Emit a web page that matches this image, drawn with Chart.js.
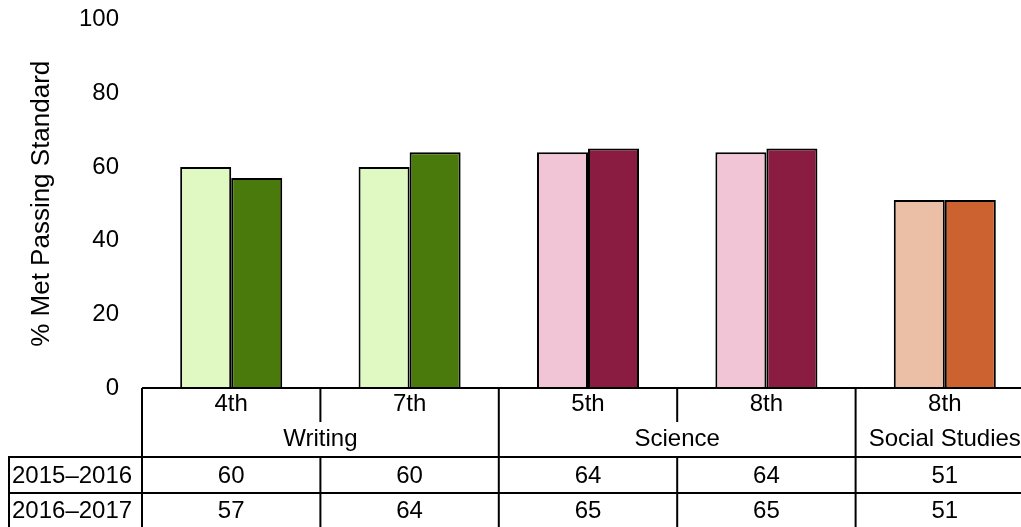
<!DOCTYPE html>
<html>
<head>
<meta charset="utf-8">
<script src="https://cdn.jsdelivr.net/npm/chart.js@4"></script>
<style>
  html, body { margin: 0; padding: 0; background: #fff; overflow: hidden; }
</style>
</head>
<body>
<canvas id="chart" width="1034" height="527"></canvas>
<script>
// Data
const grades = ['4th', '7th', '5th', '8th', '8th'];
const subjects = ['Writing', 'Writing', 'Science', 'Science', 'Social Studies'];
const years = ['2015\u20132016', '2016\u20132017'];
const values2016 = [60, 60, 64, 64, 51];
const values2017 = [57, 64, 65, 65, 51];
const yTicks = [0, 20, 40, 60, 80, 100];

// Colours per subject
const lightColors = ['#e0f8c2', '#e0f8c2', '#f2c5d6', '#f2c5d6', '#ebbfa6'];
const darkColors = ['#4a7a0c', '#4a7a0c', '#8b1c41', '#8b1c41', '#cc6230'];

const FONT = '"Liberation Sans", Arial, sans-serif';
const TEXT = '#000';

// Draws the data table under the plot
const tablePlugin = {
    id: 'dataTable',
    afterDraw(chart) {
        const ctx = chart.ctx;
        const x = chart.scales.x;
        const area = chart.chartArea;
        const W = chart.width;
        const top = area.bottom;
        const rowGroup = 422;
        const rowData1 = 457;
        const rowData2 = 493;
        const bottom = 527;
        const n = grades.length;
        const centers = grades.map((g, i) => x.getPixelForValue(i));
        const half = (centers[1] - centers[0]) / 2;

        ctx.save();
        ctx.strokeStyle = '#000';
        ctx.lineWidth = 2;
        ctx.beginPath();
        // top line
        ctx.moveTo(area.left, top); ctx.lineTo(W, top);
        // left border of table
        ctx.moveTo(area.left, top); ctx.lineTo(area.left, bottom);
        // row lines
        ctx.moveTo(8, rowData1); ctx.lineTo(W, rowData1);
        ctx.moveTo(8, rowData2); ctx.lineTo(W, rowData2);
        ctx.moveTo(9, rowData1); ctx.lineTo(9, bottom);
        // category dividers
        for (let i = 0; i < n - 1; i++) {
            const bx = centers[i] + half;
            if (subjects[i] === subjects[i + 1]) {
                ctx.moveTo(bx, top); ctx.lineTo(bx, rowGroup);
                ctx.moveTo(bx, rowData1); ctx.lineTo(bx, bottom);
            } else {
                ctx.moveTo(bx, top); ctx.lineTo(bx, bottom);
            }
        }
        ctx.stroke();

        ctx.fillStyle = TEXT;
        ctx.font = '24px ' + FONT;
        ctx.textBaseline = 'middle';
        ctx.textAlign = 'center';
        // grades + values
        for (let i = 0; i < n; i++) {
            ctx.fillText(grades[i], centers[i], 404);
            ctx.fillText(String(values2016[i]), centers[i], 476);
            ctx.fillText(String(values2017[i]), centers[i], 511);
        }
        // subject groups
        let start = 0;
        for (let i = 1; i <= n; i++) {
            if (i === n || subjects[i] !== subjects[start]) {
                const cx = (centers[start] + centers[i - 1]) / 2;
                ctx.fillText(subjects[start], cx, 439);
                start = i;
            }
        }
        // row labels
        ctx.textAlign = 'left';
        ctx.fillText(years[0], 12, 476);
        ctx.fillText(years[1], 12, 511);
        ctx.restore();
    }
};

const ctx = document.getElementById('chart').getContext('2d');
new Chart(ctx, {
    type: 'bar',
    data: {
        labels: grades,
        datasets: [
            {
                label: years[0],
                data: values2016,
                backgroundColor: lightColors,
                borderColor: '#000',
                borderWidth: 2
            },
            {
                label: years[1],
                data: values2017,
                backgroundColor: darkColors,
                borderColor: '#000',
                borderWidth: 2
            }
        ]
    },
    options: {
        responsive: false,
        animation: false,
        datasets: {
            bar: { barPercentage: 1, categoryPercentage: 0.572 }
        },
        layout: { padding: { top: 19.5, bottom: 139, left: 0, right: 0 } },
        scales: {
            x: { display: false },
            y: {
                min: 0,
                max: 100,
                afterFit: s => {
                    s.width = 142;
                    s.paddingTop = 0;
                    s.paddingBottom = 0;
                },
                afterBuildTicks: s => { s.ticks = yTicks.map(v => ({ value: v })); },
                grid: { display: false, drawTicks: false },
                border: { display: false },
                ticks: {
                    color: TEXT,
                    padding: 23,
                    font: { family: FONT, size: 24 }
                },
                title: {
                    display: true,
                    text: '% Met Passing Standard',
                    color: TEXT,
                    padding: { top: 26, bottom: 0 },
                    font: { family: FONT, size: 26 }
                }
            }
        },
        plugins: {
            legend: { display: false },
            tooltip: { enabled: false }
        }
    },
    plugins: [tablePlugin]
});
</script>
</body>
</html>
